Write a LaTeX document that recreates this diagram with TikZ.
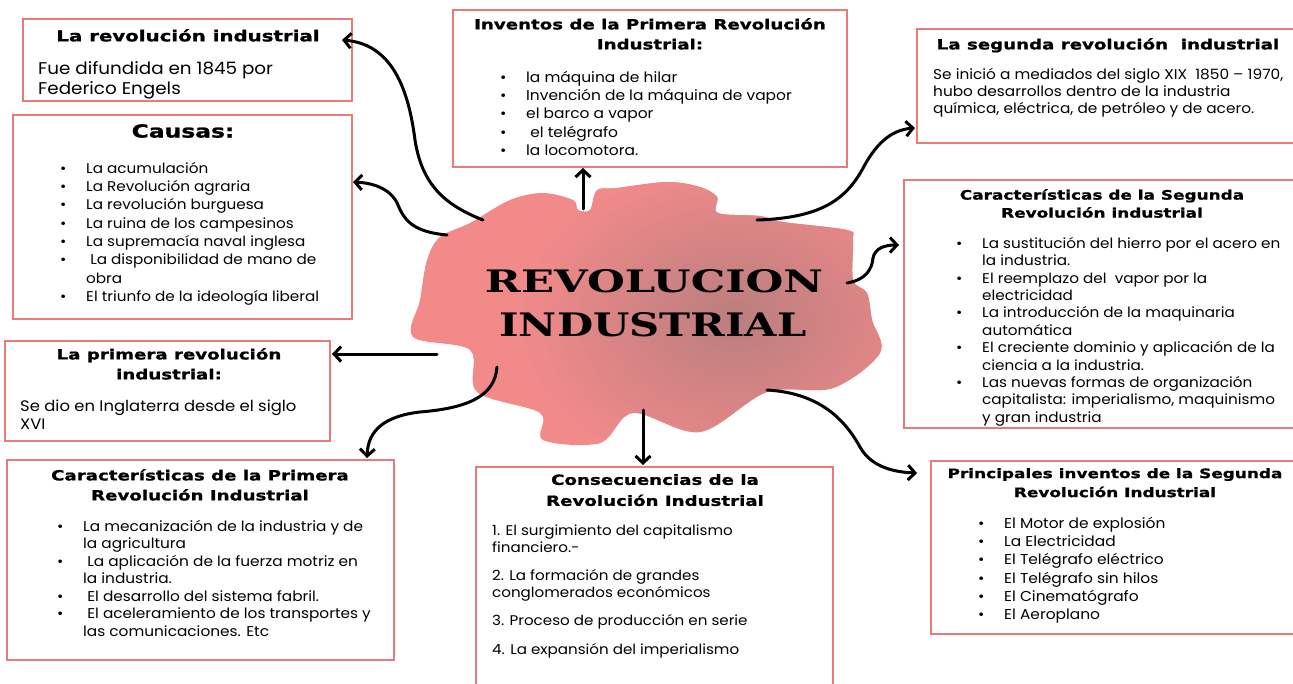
\documentclass[tikz,border=0pt]{standalone}
\usepackage{fontspec}
\usetikzlibrary{arrows.meta,calc}
\newfontfamily\bodyfont{Poppins}[FakeStretch=1.08]
\newfontfamily\titlefont{DejaVu Sans}[FakeStretch=1.3,BoldFeatures={FakeBold=1.2}]
\newfontfamily\bigfont{DejaVu Serif}
\definecolor{boxred}{RGB}{232,122,122}
\definecolor{blobpink}{RGB}{242,138,138}
\definecolor{blobdark}{RGB}{186,126,126}
\newlength\bulw
\setlength\bulw{26pt}
\newcommand\bi[1]{\makebox[\bulw][l]{\textbullet}#1}
\newcommand\bc[1]{\hspace*{\bulw}#1}
\begin{document}
\begin{tikzpicture}[x=1pt,y=-1pt,
  box/.style={draw=boxred, line width=2.2pt, fill=white, inner sep=0pt, outer sep=0pt, anchor=north west},
  ttl/.style={align=center, anchor=north, inner sep=0pt},
  bodytxt/.style={align=left, anchor=north west, inner sep=0pt},
  conn/.style={draw=black, line width=3pt, line cap=round, -{Straight Barb[length=7pt,width=15pt]}}]
\useasboundingbox (0,0) rectangle (1293,683);
\fill[white] (0,0) rectangle (1293,683);
\begin{scope}
\clip (0,0) rectangle (1293,683);
% central blob
\fill[blobpink] plot[smooth cycle, tension=0.55] coordinates {(470,223) (510,200) (543,193) (573,200) (578,210) (590,210) (597,190) (617,188) (667,182) (700,187) (717,197) (718,213) (760,216) (783,222) (847,230) (853,240) (853,280) (867,293) (872,320) (880,353) (833,388) (767,392) (700,432) (633,413) (600,443) (543,440) (540,413) (477,392) (470,350) (413,337) (420,300) (427,260) (440,237)};
\begin{scope}
\clip plot[smooth cycle, tension=0.55] coordinates {(470,223) (510,200) (543,193) (573,200) (578,210) (590,210) (597,190) (617,188) (667,182) (700,187) (717,197) (718,213) (760,216) (783,222) (847,230) (853,240) (853,280) (867,293) (872,320) (880,353) (833,388) (767,392) (700,432) (633,413) (600,443) (543,440) (540,413) (477,392) (470,350) (413,337) (420,300) (427,260) (440,237)};
\shade[inner color=blobdark, outer color=blobpink] (735,320) ellipse [x radius=220, y radius=160];
\end{scope}
\node[inner sep=0pt] (c1) at (654,281) {\resizebox{338pt}{23pt}{\bigfont\bfseries REVOLUCION}};
\node[inner sep=0pt] (c2) at (653,325) {\resizebox{307pt}{24pt}{\bigfont\bfseries INDUSTRIAL}};

% boxes
\node[box, minimum width=329pt, minimum height=82pt] (b1) at (23,19) {};
\node[box, minimum width=339pt, minimum height=204pt] (b2) at (13,115) {};
\node[box, minimum width=394pt, minimum height=157pt] (b3) at (453,10) {};
\node[box, minimum width=390pt, minimum height=114pt] (b4) at (917,29) {};
\node[box, minimum width=400pt, minimum height=248pt] (b5) at (904,180) {};
\node[box, minimum width=325pt, minimum height=100pt] (b6) at (5,341) {};
\node[box, minimum width=387pt, minimum height=200pt] (b7) at (7,460) {};
\node[box, minimum width=357pt, minimum height=230pt] (b8) at (476,467) {};
\node[box, minimum width=372pt, minimum height=173pt] (b9) at (931,461) {};

% titles
\node[ttl, font=\titlefont\bfseries\fontsize{15.2}{20}\selectfont] (t1) at (188,29) {La revolución industrial};
\node[ttl, font=\titlefont\bfseries\fontsize{18}{22}\selectfont] (t2) at (183,124) {Causas:};
\node[ttl, font=\titlefont\bfseries\fontsize{14}{20}\selectfont] (t3) at (650,18) {Inventos de la Primera Revolución\\Industrial:};
\node[ttl, font=\titlefont\bfseries\fontsize{14}{20}\selectfont] (t4) at (1108,38) {La segunda revolución\ \ industrial};
\node[ttl, font=\titlefont\bfseries\fontsize{13}{18}\selectfont] (t5) at (1102,189) {Características de la Segunda\\Revolución industrial};
\node[ttl, font=\titlefont\bfseries\fontsize{14}{20}\selectfont] (t6) at (169,348) {La primera revolución\\industrial:};
\node[ttl, font=\titlefont\bfseries\fontsize{14}{20}\selectfont] (t7) at (200,469) {Características de la Primera\\Revolución Industrial};
\node[ttl, font=\titlefont\bfseries\fontsize{14}{21}\selectfont] (t8) at (655,474) {Consecuencias de la\\Revolución Industrial};
\node[ttl, font=\titlefont\bfseries\fontsize{13}{19}\selectfont] (t9) at (1115,468) {Principales inventos de la Segunda\\Revolución Industrial};

% bodies
\node[bodytxt, font=\bodyfont\fontsize{17}{20}\selectfont] (x1) at (38,61) {Fue difundida en 1845 por\\Federico Engels};
\node[bodytxt, font=\bodyfont\fontsize{14.1}{18.3}\selectfont] (x2) at (60,162) {\bi{La acumulación}\\\bi{La Revolución agraria}\\\bi{La revolución burguesa}\\\bi{La ruina de los campesinos}\\\bi{La supremacía naval inglesa}\\\bi{\ La disponibilidad de mano de}\\\bc{obra}\\\bi{El triunfo de la ideología liberal}};
\node[bodytxt, font=\bodyfont\fontsize{14.3}{18.3}\selectfont] (x3) at (500,71) {\bi{la máquina de hilar}\\\bi{Invención de la máquina de vapor}\\\bi{el barco a vapor}\\\bi{\ el telégrafo}\\\bi{la locomotora.}};
\node[bodytxt, font=\bodyfont\fontsize{14.2}{17}\selectfont] (x4) at (933,68) {Se inició a mediados del siglo XIX\ \ 1850 – 1970,\\hubo desarrollos dentro de la industria\\química, eléctrica, de petróleo y de acero.};
\node[bodytxt, font=\bodyfont\fontsize{14.1}{17.4}\selectfont] (x5) at (956,237) {\bi{La sustitución del hierro por el acero en}\\\bc{la industria.}\\\bi{El reemplazo del\ \ vapor por la}\\\bc{electricidad}\\\bi{La introducción de la maquinaria}\\\bc{automática}\\\bi{El creciente dominio y aplicación de la}\\\bc{ciencia a la industria.}\\\bi{Las nuevas formas de organización}\\\bc{capitalista: imperialismo, maquinismo}\\\bc{y gran industria}};
\node[bodytxt, font=\bodyfont\fontsize{15.2}{18}\selectfont] (x6) at (20,400) {Se dio en Inglaterra desde el siglo\\XVI};
\node[bodytxt, font=\bodyfont\fontsize{14.2}{17.5}\selectfont] (x7) at (57,520) {\bi{La mecanización de la industria y de}\\\bc{la agricultura}\\\bi{\ La aplicación de la fuerza motriz en}\\\bc{la industria.}\\\bi{\ El desarrollo del sistema fabril.}\\\bi{\ El aceleramiento de los transportes y}\\\bc{las comunicaciones. Etc}};
\node[bodytxt, font=\bodyfont\fontsize{14}{17}\selectfont] (x8) at (492,525) {1. El surgimiento del capitalismo\\financiero.-\\[11pt]2. La formación de grandes\\conglomerados económicos\\[11pt]3. Proceso de producción en serie\\[12pt]4. La expansión del imperialismo};
\node[bodytxt, font=\bodyfont\fontsize{14.3}{18.2}\selectfont] (x9) at (978,517) {\bi{El Motor de explosión}\\\bi{La Electricidad}\\\bi{El Telégrafo eléctrico}\\\bi{El Telégrafo sin hilos}\\\bi{El Cinematógrafo}\\\bi{El Aeroplano}};

% connector start points on the blob
\coordinate (s1) at (483,220);
\coordinate (s2) at (447,235);
\coordinate (s3) at (583,209);
\coordinate (s4) at (757,220);
\coordinate (s5) at (847,283);
\coordinate (s6) at (437,354);
\coordinate (s7) at (497,367);
\coordinate (s8) at (643,410);
\coordinate (s9) at (767,390);
% connector end points at the boxes
\coordinate (e1) at ($(b1.north east)+(-10,21)$);
\coordinate (e2) at ($(b2.north east)+(1,67)$);
\coordinate (e3) at ($(b3.south west)+(130,1)$);
\coordinate (e4) at ($(b4.south west)+(-2,-15)$);
\coordinate (e5) at ($(b5.north west)+(-5,65)$);
\coordinate (e6) at ($(b6.north east)+(2,13)$);
\coordinate (e7) at ($(b7.north west)+(360,-2)$);
\coordinate (e8) at ($(b8.north west)+(167,-2)$);
\coordinate (e9) at ($(b9.north west)+(-14,12)$);

\draw[conn] (s1) .. controls (445,205) and (422,185) .. (415,140) .. controls (408,85) and (390,44) .. (e1);
\draw[conn] (s2) .. controls (415,232) and (405,222) .. (398,205) .. controls (392,190) and (375,183) .. (e2);
\draw[conn] (s3) -- (e3);
\draw[conn] (s4) .. controls (820,218) and (845,200) .. (862,170) .. controls (875,145) and (890,130) .. (e4);
\draw[conn] (s5) .. controls (865,280) and (872,270) .. (873,258) .. controls (875,248) and (885,245) .. (e5);
\draw[conn] (s6) -- (e6);
\draw[conn] (s7) .. controls (495,395) and (470,408) .. (420,412) .. controls (385,416) and (368,430) .. (e7);
\draw[conn] (s8) -- (e8);
\draw[conn] (s9) .. controls (820,393) and (845,420) .. (860,447) .. controls (870,465) and (890,472) .. (e9);
\end{scope}
\end{tikzpicture}
\end{document}
